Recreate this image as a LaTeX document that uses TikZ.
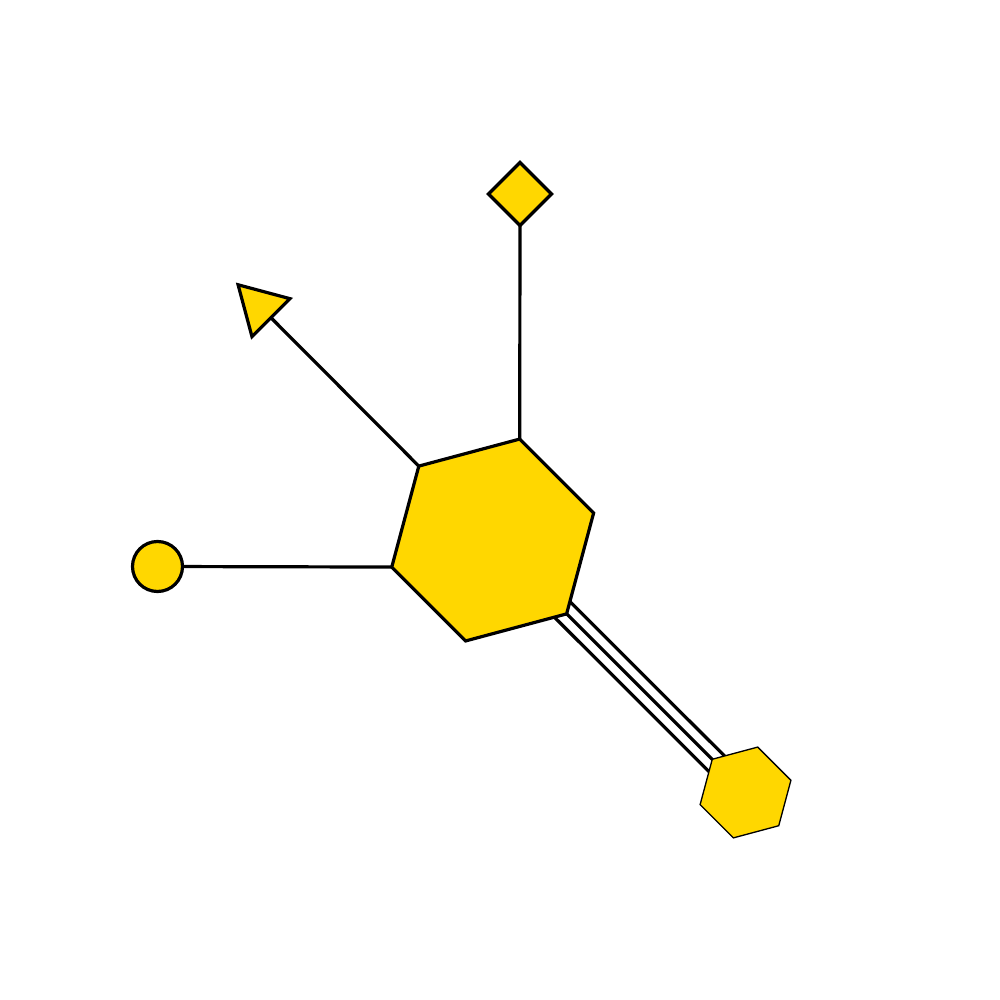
\documentclass[tikz,border=0pt]{standalone}
\usetikzlibrary{shapes.geometric,backgrounds,calc}
\definecolor{gold}{RGB}{255,215,0}
\begin{document}
\begin{tikzpicture}[x=0.25mm,y=0.25mm,
  shapebase/.style={draw=black,fill=gold,line width=0.8mm,inner sep=0pt,outer sep=0pt},
  hexbig/.style={shapebase,regular polygon,regular polygon sides=6,regular polygon rotate=15,minimum size=52.25mm},
  hexsmall/.style={shapebase,line width=0.33mm,regular polygon,regular polygon sides=6,regular polygon rotate=15,minimum size=23.5mm},
  roundend/.style={shapebase,circle,minimum size=12.5mm},
  triend/.style={shapebase,regular polygon,regular polygon sides=3,regular polygon rotate=45,minimum size=15.5mm},
  diaend/.style={shapebase,regular polygon,regular polygon sides=4,regular polygon rotate=45,minimum size=15.75mm},
  bond/.style={draw=black,line width=0.8mm}]
\useasboundingbox (0,0) rectangle (1000,1000);
\node[hexbig] (hub) at (492.7,460) {};
\node[hexsmall] (sm) at (745.5,207.5) {};
\node[roundend] (circ) at (157.5,433.5) {};
\node[triend] (tri) at (260,693.3) {};
\node[diaend] (dia) at (520,806) {};
\begin{scope}[on background layer]
  \draw[bond] (circ.center) -- (hub.195);
  \draw[bond] (tri.center) -- (hub.135);
  \draw[bond] (dia.center) -- (hub.75);
  \draw[bond] (hub.center) -- (sm.center);
  \draw[bond] ($(hub.center)+(45:11)$) -- ($(sm.center)+(45:11)$);
  \draw[bond] ($(hub.center)+(225:11)$) -- ($(sm.center)+(225:11)$);
\end{scope}
\end{tikzpicture}
\end{document}
